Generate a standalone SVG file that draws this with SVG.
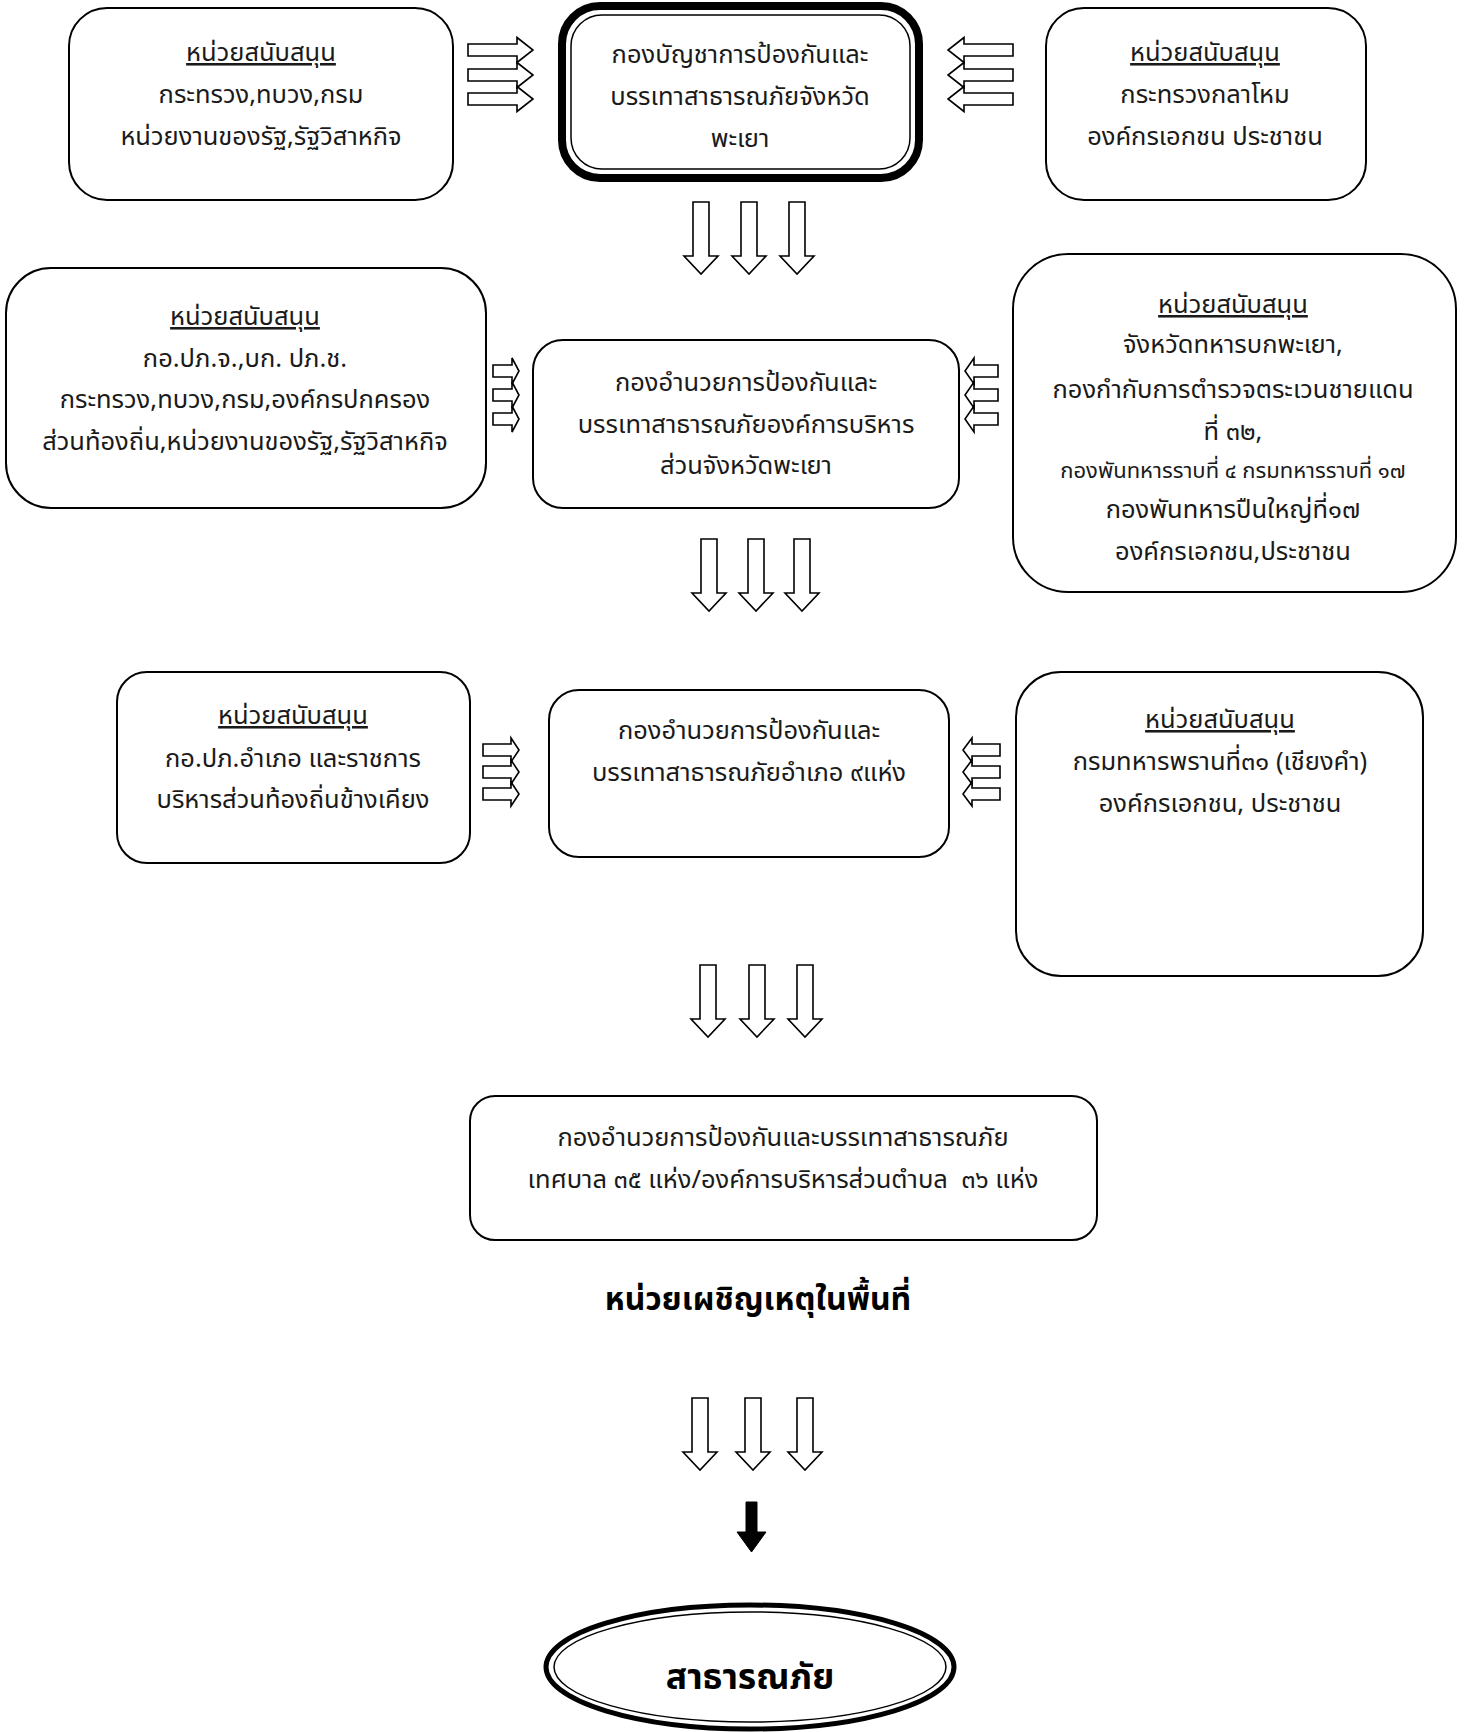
<svg xmlns="http://www.w3.org/2000/svg" xmlns:xlink="http://www.w3.org/1999/xlink" width="1465" height="1732" viewBox="0 0 1465 1732">
<style>
.box{fill:#fff;stroke:#000;stroke-width:2}
.t{font-family:'Noto Sans','Noto Sans Thai','DejaVu Sans',sans-serif;font-size:25.5px;fill:#1a1a1a;text-anchor:middle}
.sm{font-size:22px}
.u{text-decoration:underline}
.b{font-weight:bold;fill:#000}
.ar{fill:#fff;stroke:#000;stroke-width:1.6;stroke-linejoin:miter}
</style>
<defs>
<path id="da" d="M-8,0 H8 V54 H17 L0,72 L-17,54 H-8 Z"/>
<path id="raL" d="M0,-6 H49 V-12.5 L65,0 L49,12.5 V6 H0 Z"/>
<path id="laL" d="M0,-6 H-49 V-12.5 L-65,0 L-49,12.5 V6 H0 Z"/>
<path id="raS" d="M0,-6 H19 V-13 L26,0 L19,13 V6 H0 Z"/>
<path id="laS" d="M0,-6 H-24 V-13 L-33,0 L-24,13 V6 H0 Z"/>
<path id="raM" d="M0,-6 H28 V-12 L36,0 L28,12 V6 H0 Z"/>
<path id="laM" d="M0,-6 H-28 V-12 L-37,0 L-28,12 V6 H0 Z"/>
</defs>

<g id="connectors">
  <g class="ar">
    <use xlink:href="#raL" x="468" y="50"/>
    <use xlink:href="#raL" x="468" y="75"/>
    <use xlink:href="#raL" x="468" y="99"/>
    <use xlink:href="#laL" x="1013" y="50"/>
    <use xlink:href="#laL" x="1013" y="75"/>
    <use xlink:href="#laL" x="1013" y="99"/>
    <use xlink:href="#da" x="701" y="202"/>
    <use xlink:href="#da" x="749" y="202"/>
    <use xlink:href="#da" x="797" y="202"/>
    <use xlink:href="#raS" x="493" y="371"/>
    <use xlink:href="#raS" x="493" y="395"/>
    <use xlink:href="#raS" x="493" y="419"/>
    <use xlink:href="#laS" x="998" y="371"/>
    <use xlink:href="#laS" x="998" y="395"/>
    <use xlink:href="#laS" x="998" y="419"/>
    <use xlink:href="#da" x="709" y="539"/>
    <use xlink:href="#da" x="756" y="539"/>
    <use xlink:href="#da" x="802" y="539"/>
    <use xlink:href="#raM" x="483" y="750"/>
    <use xlink:href="#raM" x="483" y="772"/>
    <use xlink:href="#raM" x="483" y="794"/>
    <use xlink:href="#laM" x="1000" y="750"/>
    <use xlink:href="#laM" x="1000" y="772"/>
    <use xlink:href="#laM" x="1000" y="794"/>
    <use xlink:href="#da" x="708" y="965"/>
    <use xlink:href="#da" x="757" y="965"/>
    <use xlink:href="#da" x="805" y="965"/>
    <use xlink:href="#da" x="700" y="1398"/>
    <use xlink:href="#da" x="753" y="1398"/>
    <use xlink:href="#da" x="805" y="1398"/>
  </g>
  <path d="M746,1502 H757 V1532 H766 L751.5,1552 L737,1532 H746 Z" fill="#000" stroke="#000" stroke-width="1"/>
</g>

<g id="n-top-left">
  <rect class="box" x="69" y="8" width="384" height="192" rx="38"/>
  <text class="t u" x="261" y="61">หน่วยสนับสนุน</text>
  <text class="t" x="261" y="103">กระทรวง,ทบวง,กรม</text>
  <text class="t" x="261" y="145">หน่วยงานของรัฐ,รัฐวิสาหกิจ</text>
</g>

<g id="n-command">
  <rect x="562" y="6" width="357" height="172" rx="38" fill="#fff" stroke="#000" stroke-width="8"/>
  <rect x="571" y="15" width="339" height="154" rx="31" fill="none" stroke="#000" stroke-width="1.5"/>
  <text class="t" x="740" y="63">กองบัญชาการป้องกันและ</text>
  <text class="t" x="740" y="105">บรรเทาสาธารณภัยจังหวัด</text>
  <text class="t" x="740" y="147">พะเยา</text>
</g>

<g id="n-top-right">
  <rect class="box" x="1046" y="8" width="320" height="192" rx="38"/>
  <text class="t u" x="1205" y="61">หน่วยสนับสนุน</text>
  <text class="t" x="1205" y="103">กระทรวงกลาโหม</text>
  <text class="t" x="1205" y="145">องค์กรเอกชน ประชาชน</text>
</g>

<g id="n-mid-left">
  <rect class="box" x="6" y="268" width="480" height="240" rx="45"/>
  <text class="t u" x="245" y="325">หน่วยสนับสนุน</text>
  <text class="t" x="245" y="367">กอ.ปภ.จ.,บก. ปภ.ช.</text>
  <text class="t" x="245" y="408">กระทรวง,ทบวง,กรม,องค์กรปกครอง</text>
  <text class="t" x="245" y="450">ส่วนท้องถิ่น,หน่วยงานของรัฐ,รัฐวิสาหกิจ</text>
</g>

<g id="n-pao">
  <rect class="box" x="533" y="340" width="426" height="168" rx="30"/>
  <text class="t" x="746" y="391">กองอำนวยการป้องกันและ</text>
  <text class="t" x="746" y="433">บรรเทาสาธารณภัยองค์การบริหาร</text>
  <text class="t" x="746" y="474">ส่วนจังหวัดพะเยา</text>
</g>

<g id="n-mid-right">
  <rect class="box" x="1013" y="254" width="443" height="338" rx="55"/>
  <text class="t u" x="1233" y="313">หน่วยสนับสนุน</text>
  <text class="t" x="1233" y="353">จังหวัดทหารบกพะเยา,</text>
  <text class="t" x="1233" y="398">กองกำกับการตำรวจตระเวนชายแดน</text>
  <text class="t" x="1233" y="440">ที่ ๓๒,</text>
  <text class="t sm" x="1233" y="478">กองพันทหารราบที่ ๔ กรมทหารราบที่ ๑๗</text>
  <text class="t" x="1233" y="518">กองพันทหารปืนใหญ่ที่๑๗</text>
  <text class="t" x="1233" y="560">องค์กรเอกชน,ประชาชน</text>
</g>

<g id="n-low-left">
  <rect class="box" x="117" y="672" width="353" height="191" rx="30"/>
  <text class="t u" x="293" y="724">หน่วยสนับสนุน</text>
  <text class="t" x="293" y="767">กอ.ปภ.อำเภอ และราชการ</text>
  <text class="t" x="293" y="808">บริหารส่วนท้องถิ่นข้างเคียง</text>
</g>

<g id="n-district">
  <rect class="box" x="549" y="690" width="400" height="167" rx="30"/>
  <text class="t" x="749" y="739">กองอำนวยการป้องกันและ</text>
  <text class="t" x="749" y="781">บรรเทาสาธารณภัยอำเภอ ๙แห่ง</text>
</g>

<g id="n-low-right">
  <rect class="box" x="1016" y="672" width="407" height="304" rx="45"/>
  <text class="t u" x="1220" y="728">หน่วยสนับสนุน</text>
  <text class="t" x="1220" y="770">กรมทหารพรานที่๓๑ (เชียงคำ)</text>
  <text class="t" x="1220" y="812">องค์กรเอกชน, ประชาชน</text>
</g>

<g id="n-local">
  <rect class="box" x="470" y="1096" width="627" height="144" rx="25"/>
  <text class="t" x="783" y="1146">กองอำนวยการป้องกันและบรรเทาสาธารณภัย</text>
  <text class="t" x="783" y="1188" xml:space="preserve">เทศบาล ๓๕ แห่ง/องค์การบริหารส่วนตำบล  ๓๖ แห่ง</text>
</g>

<g id="n-title">
  <text class="t b" x="758" y="1310" style="font-size:32px">หน่วยเผชิญเหตุในพื้นที่</text>
</g>

<g id="n-disaster">
  <ellipse cx="750" cy="1667" rx="204" ry="62" fill="#fff" stroke="#000" stroke-width="5"/>
  <ellipse cx="750" cy="1667" rx="196" ry="55" fill="none" stroke="#000" stroke-width="1.5"/>
  <text class="t b" x="750" y="1689" style="font-size:35.5px">สาธารณภัย</text>
</g>
</svg>
